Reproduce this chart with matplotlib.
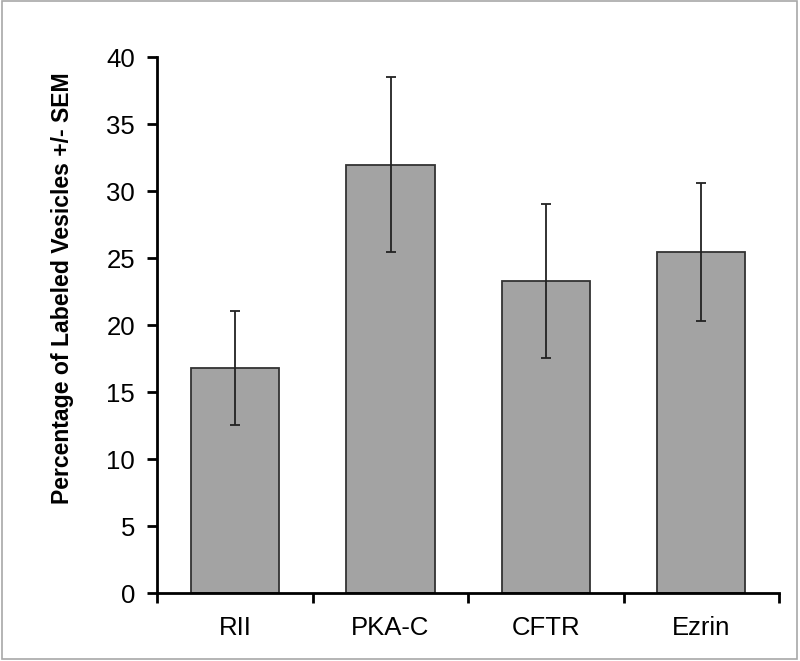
import matplotlib
matplotlib.use("Agg")
import matplotlib.pyplot as plt
from matplotlib.patches import Rectangle
import numpy as np

# Veriler
categories = ["RII", "PKA-C", "CFTR", "Ezrin"]
values = [16.8, 32.0, 23.3, 25.5]
sem = [4.25, 6.5, 5.75, 5.15]
y_ticks = [0, 5, 10, 15, 20, 25, 30, 35, 40]

plt.rcParams["font.family"] = ["Liberation Sans", "DejaVu Sans"]

fig = plt.figure(figsize=(8, 6.61), dpi=100)
ax = fig.add_axes([0.1966, 0.1024, 0.7774, 0.8109])

x = np.arange(len(categories))
ax.bar(x, values, width=0.566, color="#a3a3a3", edgecolor="#333333", linewidth=1.3, zorder=2)
ax.errorbar(x, values, yerr=sem, fmt="none", ecolor="#222222", elinewidth=1.3,
            capsize=3.5, capthick=1.3, zorder=3)

ax.set_xlim(-0.5, len(categories) - 0.5)
ax.set_ylim(0, 40)
ax.set_yticks(y_ticks)
ax.set_yticklabels([str(t) for t in y_ticks], fontsize=18.5)

# Kategori etiketleri ortada, tik çizgileri aralarda
ax.set_xticks(x)
ax.set_xticklabels(categories, fontsize=18.5)
ax.set_xticks(np.arange(-0.5, len(categories)), minor=True)
ax.tick_params(axis="x", which="major", length=0, pad=16)
ax.tick_params(axis="x", which="minor", length=7, width=2, direction="out")
ax.tick_params(axis="y", length=7, width=2, direction="out", pad=9)

for side in ["top", "right"]:
    ax.spines[side].set_visible(False)
for side in ["left", "bottom"]:
    ax.spines[side].set_linewidth(2)

fig.text(63 / 800, 1 - 288.5 / 661, "Percentage of Labeled Vesicles +/- SEM",
         rotation=90, ha="center", va="center", fontsize=16.6, fontweight="bold")

# Dış çerçeve
fig.patches.append(Rectangle((0.003, 0.003), 0.993, 0.995, transform=fig.transFigure,
                             fill=False, edgecolor="#a8a8a8", linewidth=1.2))

fig.savefig("out.png", dpi=100)
